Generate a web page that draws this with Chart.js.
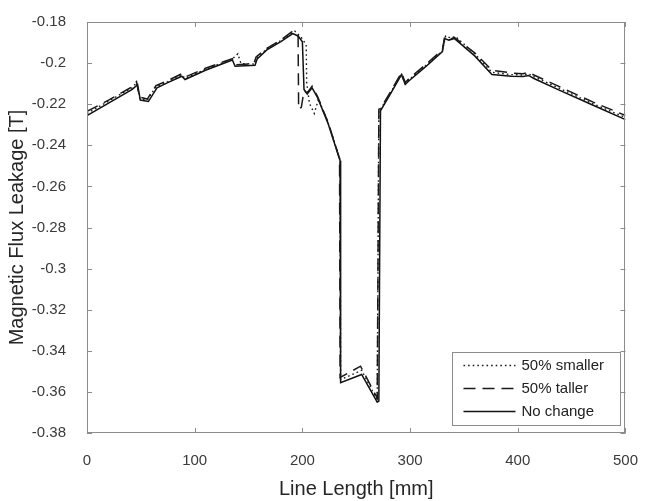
<!DOCTYPE html>
<html>
<head>
<meta charset="utf-8">
<script src="https://cdn.jsdelivr.net/npm/chart.js@4.4.1/dist/chart.umd.min.js"></script>
<style>
  html, body { margin: 0; padding: 0; background: #ffffff; }
  #wrap { width: 649px; height: 501px; }
</style>
</head>
<body>
<div id="wrap"><canvas id="c" width="649" height="501"></canvas></div>
<script>
// ---- data (x in mm, y in T) ----
const xTicks = [0, 100, 200, 300, 400, 500];
const yTicks = [-0.38, -0.36, -0.34, -0.32, -0.3, -0.28, -0.26, -0.24, -0.22, -0.2, -0.18];
const yTickLabels = ['-0.38', '-0.36', '-0.34', '-0.32', '-0.3', '-0.28', '-0.26', '-0.24', '-0.22', '-0.2', '-0.18'];
const seriesNames = ['50% smaller', '50% taller', 'No change'];

const smaller = [[0,-0.2245],[20,-0.2185],[42,-0.212],[46,-0.2095],[49,-0.2172],[56,-0.218],[64,-0.2115],[75,-0.209],[88,-0.2058],[91,-0.2074],[110,-0.203],[135,-0.198],[140,-0.1955],[143,-0.2002],[156,-0.2005],[158,-0.1975],[167,-0.193],[180,-0.189],[193,-0.1845],[199,-0.1875],[203.5,-0.191],[204,-0.2095],[206.5,-0.2195],[211,-0.2245],[215,-0.2175],[224,-0.2292],[235,-0.247],[235.5,-0.354],[255,-0.3495],[269.5,-0.364],[271,-0.2228],[272.5,-0.2225],[281.5,-0.2148],[292,-0.2052],[295.5,-0.21],[298.5,-0.2083],[315,-0.201],[330,-0.194],[333,-0.1868],[338,-0.1878],[342,-0.187],[360,-0.1955],[376,-0.2045],[394,-0.2056],[405,-0.2058],[410,-0.2052],[415,-0.2066],[440,-0.2126],[470,-0.2198],[500,-0.2265]];

const taller = [[0,-0.2235],[20,-0.218],[42,-0.2115],[46,-0.209],[48.5,-0.2165],[56,-0.2175],[64,-0.211],[75,-0.2085],[88,-0.2052],[91,-0.2068],[110,-0.2025],[135,-0.1978],[137.5,-0.2008],[155,-0.2002],[157,-0.197],[167,-0.1928],[180,-0.1888],[190,-0.1848],[196,-0.186],[196.5,-0.2225],[199,-0.2215],[201.5,-0.2135],[204.5,-0.2145],[209,-0.2112],[214,-0.2162],[224,-0.229],[234.5,-0.2465],[235,-0.353],[254,-0.3475],[269.5,-0.363],[271,-0.2225],[272.5,-0.2222],[281.5,-0.2142],[292,-0.2046],[295.5,-0.2094],[298.5,-0.2078],[315,-0.2005],[330,-0.1935],[332,-0.1875],[337,-0.1885],[341,-0.1875],[360,-0.195],[376,-0.2035],[394,-0.2048],[405,-0.2052],[410,-0.2045],[415,-0.2058],[440,-0.2118],[470,-0.219],[500,-0.2255]];

const noChange = [[0,-0.2255],[20,-0.2195],[42,-0.2128],[47,-0.2105],[49.5,-0.218],[57,-0.2187],[65,-0.212],[75,-0.2095],[88,-0.2064],[91,-0.208],[110,-0.2035],[135,-0.1985],[137.5,-0.2015],[156,-0.201],[158,-0.198],[167,-0.1936],[180,-0.1895],[191,-0.1856],[196,-0.1868],[200,-0.1896],[201.5,-0.2128],[204.5,-0.215],[209,-0.212],[214,-0.2167],[224,-0.2296],[235,-0.2475],[235.5,-0.3555],[255,-0.3515],[269.5,-0.365],[271,-0.3645],[272.5,-0.2232],[281.5,-0.2152],[292,-0.2056],[295.5,-0.2104],[298.5,-0.2088],[315,-0.2015],[330,-0.1944],[332,-0.188],[336,-0.1888],[341,-0.188],[360,-0.1965],[376,-0.2056],[394,-0.2064],[405,-0.2065],[410,-0.206],[415,-0.2075],[440,-0.2135],[470,-0.2205],[500,-0.2275]];

const toPts = arr => arr.map(p => ({x: p[0], y: p[1]}));

const FONT = '"Liberation Sans", Arial, sans-serif';
const TEXT = '#3a3a3a';
const FRAME = '#8c8c8c';

const framePlugin = {
  id: 'frame',
  afterDatasetsDraw(chart) {
    const {ctx, chartArea: a, scales} = chart;
    ctx.save();
    ctx.strokeStyle = FRAME;
    ctx.lineWidth = 1;
    ctx.strokeRect(Math.round(a.left) + 0.5, Math.round(a.top) + 0.5,
                   Math.round(a.right - a.left) - 1, Math.round(a.bottom - a.top) - 1);
    const tl = 5;
    ctx.beginPath();
    xTicks.forEach(v => {
      const px = Math.round(scales.x.getPixelForValue(v)) + 0.5;
      ctx.moveTo(px, a.bottom); ctx.lineTo(px, a.bottom - tl);
      ctx.moveTo(px, a.top); ctx.lineTo(px, a.top + tl);
    });
    yTicks.forEach(v => {
      const py = Math.round(scales.y.getPixelForValue(v)) + 0.5;
      ctx.moveTo(a.left, py); ctx.lineTo(a.left + tl, py);
      ctx.moveTo(a.right, py); ctx.lineTo(a.right - tl, py);
    });
    ctx.stroke();
    ctx.restore();
  },
  afterDraw(chart) {
    const {ctx, chartArea: a} = chart;
    const w = 168, h = 73;
    const x0 = a.right - 5 - w, y0 = a.bottom - 8 - h;
    ctx.save();
    ctx.fillStyle = '#ffffff';
    ctx.fillRect(x0, y0, w, h);
    ctx.strokeStyle = FRAME;
    ctx.lineWidth = 1;
    ctx.strokeRect(Math.round(x0) + 0.5, Math.round(y0) + 0.5, w, h);
    ctx.font = '15px ' + FONT;
    ctx.textBaseline = 'middle';
    ctx.textAlign = 'left';
    chart.data.datasets.forEach((ds, i) => {
      const yy = Math.round(y0 + 13 + i * 23) + 0.5;
      ctx.strokeStyle = ds.borderColor;
      ctx.lineWidth = ds.borderWidth;
      ctx.setLineDash(ds.borderDash || []);
      ctx.beginPath();
      ctx.moveTo(x0 + 11, yy);
      ctx.lineTo(x0 + 63, yy);
      ctx.stroke();
      ctx.setLineDash([]);
      ctx.fillStyle = '#222222';
      ctx.fillText(ds.label, x0 + 69, yy);
    });
    ctx.restore();
  }
};

new Chart(document.getElementById('c'), {
  type: 'line',
  data: {
    datasets: [
      { label: seriesNames[0], data: toPts(smaller), borderColor: '#1a1a1a', borderWidth: 1.4, borderDash: [1.6, 3], pointRadius: 0, tension: 0, fill: false },
      { label: seriesNames[1], data: toPts(taller), borderColor: '#1a1a1a', borderWidth: 1.5, borderDash: [12, 7], pointRadius: 0, tension: 0, fill: false },
      { label: seriesNames[2], data: toPts(noChange), borderColor: '#111111', borderWidth: 1.5, pointRadius: 0, tension: 0, fill: false }
    ]
  },
  options: {
    responsive: false,
    animation: false,
    devicePixelRatio: 1,
    layout: { padding: { top: 17, right: 12, left: 0, bottom: 0 } },
    plugins: { legend: { display: false }, tooltip: { enabled: false } },
    scales: {
      x: {
        type: 'linear', min: 0, max: 500,
        grid: { display: false },
        border: { display: false },
        afterBuildTicks: s => { s.ticks = xTicks.map(v => ({ value: v })); },
        afterFit: s => { s.height = 68; },
        ticks: { padding: 11, color: TEXT, font: { family: FONT, size: 15 }, maxRotation: 0, callback: v => String(v) },
        title: { display: true, text: 'Line Length [mm]', color: '#262626', font: { family: FONT, size: 20 }, padding: { top: 0, bottom: 0 } }
      },
      y: {
        type: 'linear', min: -0.38, max: -0.18,
        grid: { display: false },
        border: { display: false },
        afterBuildTicks: s => { s.ticks = yTicks.map(v => ({ value: v })); },
        afterFit: s => { s.width = 87; },
        ticks: { padding: 13, color: TEXT, font: { family: FONT, size: 15 }, callback: (v, i) => yTickLabels[i] },
        title: { display: true, text: 'Magnetic Flux Leakage [T]', color: '#262626', font: { family: FONT, size: 20 }, padding: { top: 5, bottom: 0 } }
      }
    }
  },
  plugins: [framePlugin]
});
</script>
</body>
</html>
